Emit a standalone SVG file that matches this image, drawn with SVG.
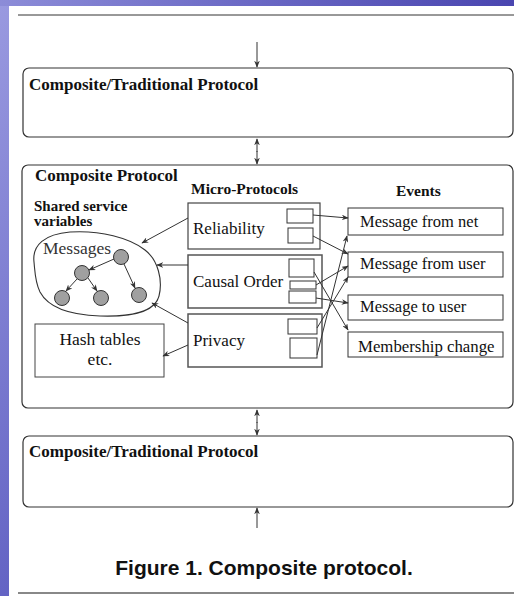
<svg xmlns="http://www.w3.org/2000/svg" width="514" height="596" viewBox="0 0 514 596">
<defs>
<linearGradient id="bg" x1="0" y1="0" x2="1" y2="1">
<stop offset="0" stop-color="#9a9ae0"/>
<stop offset="0.5" stop-color="#6464c4"/>
<stop offset="1" stop-color="#4646b0"/>
</linearGradient>
<linearGradient id="topbar" x1="0" y1="0" x2="1" y2="0">
<stop offset="0" stop-color="#8c8cd8"/>
<stop offset="0.5" stop-color="#6a68c4"/>
<stop offset="1" stop-color="#4a46b0"/>
</linearGradient>
<marker id="ah" viewBox="0 0 10 8" refX="9" refY="4" markerWidth="7" markerHeight="5.6" markerUnits="userSpaceOnUse" orient="auto-start-reverse">
<path d="M0,0 L10,4 L0,8 L3,4 z" fill="#333"/>
</marker>
<style>
.t{font-family:"Liberation Serif","Times New Roman",serif;fill:#111}
.b{font-weight:bold;font-size:17px}
.r{font-size:17px}
.sv{font-weight:bold;font-size:15px}
.big{fill:none;stroke:#333;stroke-width:1.2}
.mp{fill:none;stroke:#444;stroke-width:1.2}
.sb{fill:#fff;stroke:#333;stroke-width:1}
.ev{fill:#fff;stroke:#333;stroke-width:1}
.ln{fill:none;stroke:#333;stroke-width:1;marker-end:url(#ah)}
.nd{fill:#a0a0a0;stroke:#333;stroke-width:1}
</style>
</defs>
<rect x="0" y="0" width="514" height="596" fill="url(#bg)"/>
<rect x="0" y="0" width="514" height="6" fill="url(#topbar)"/>
<rect x="9" y="6" width="505" height="590" fill="#fff"/>
<line x1="18" y1="15" x2="514" y2="15" stroke="#333" stroke-width="1"/>
<line x1="18" y1="593" x2="514" y2="593" stroke="#888" stroke-width="2"/>

<g id="top-protocol">
<rect class="big" x="23" y="68" width="490" height="69" rx="6"/>
<text class="t b" x="29" y="90">Composite/Traditional Protocol</text>
</g>

<g id="composite-protocol">
<rect class="big" x="22" y="165" width="491" height="243" rx="6"/>
<text class="t b" x="35" y="181">Composite Protocol</text>
<text class="t" x="191" y="194" style="font-weight:bold;font-size:15.5px">Micro-Protocols</text>
<text class="t" x="396" y="196" style="font-weight:bold;font-size:15.5px">Events</text>
<text class="t sv" x="34" y="211">Shared service</text>
<text class="t sv" x="34" y="226">variables</text>
</g>

<g id="shared-variables">
<path d="M34,262 C32,245 45,234 70,232 C100,230 130,238 145,250 C158,260 163,280 159,296 C155,312 130,317 100,316 C70,315 48,307 40,292 C35,282 35,272 34,262 Z" fill="none" stroke="#333" stroke-width="1.1"/>
<text class="t" x="43" y="254" style="font-size:17.5px;fill:#333">Messages</text>
<circle class="nd" cx="121" cy="257" r="7.5"/>
<circle class="nd" cx="82" cy="273" r="7.5"/>
<circle class="nd" cx="62" cy="298" r="7.5"/>
<circle class="nd" cx="101" cy="298" r="7.5"/>
<circle class="nd" cx="139" cy="295" r="7.5"/>
</g>

<g id="reliability">
<rect class="mp" x="188" y="203" width="132" height="46"/>
<text class="t r" x="193" y="234">Reliability</text>
<rect class="sb" x="287" y="209" width="26" height="14"/>
<rect class="sb" x="288" y="228" width="25" height="15"/>
</g>

<g id="causal-order">
<rect class="mp" x="188" y="255" width="134" height="53" style="stroke:#555;stroke-width:1.5"/>
<text class="t r" x="193" y="287">Causal Order</text>
<rect class="sb" x="289" y="259" width="25" height="18"/>
<rect class="sb" x="290" y="281" width="26" height="8"/>
<rect class="sb" x="289" y="291" width="27" height="12"/>
</g>

<g id="privacy">
<rect class="mp" x="188" y="314" width="134" height="53" style="stroke:#555;stroke-width:1.5"/>
<text class="t r" x="193" y="346">Privacy</text>
<rect class="sb" x="288" y="319" width="29" height="15"/>
<rect class="sb" x="290" y="338" width="27" height="20"/>
</g>

<g id="hash-tables">
<rect class="sb" x="35" y="324" width="129" height="53" style="stroke:#444"/>
<text class="t" x="100" y="345" text-anchor="middle" style="font-size:17.5px">Hash tables</text>
<text class="t" x="100" y="365" text-anchor="middle" style="font-size:17.5px">etc.</text>
</g>

<g id="event-net">
<rect class="ev" x="348" y="208" width="155" height="27"/>
<text class="t" x="360" y="227" style="font-size:16.5px">Message from net</text>
</g>
<g id="event-from-user">
<rect class="ev" x="348" y="252" width="155" height="25"/>
<text class="t" x="360" y="269" style="font-size:16.5px">Message from user</text>
</g>
<g id="event-to-user">
<rect class="ev" x="348" y="295" width="155" height="25"/>
<text class="t" x="360" y="312" style="font-size:16.5px">Message to user</text>
</g>
<g id="event-membership">
<rect class="ev" x="348" y="332" width="155" height="25"/>
<text class="t" x="358" y="352" style="font-size:16.8px">Membership change</text>
</g>

<g id="bottom-protocol">
<rect class="big" x="23" y="436" width="490" height="71" rx="6"/>
<text class="t b" x="29" y="457">Composite/Traditional Protocol</text>
</g>

<text x="264" y="575" text-anchor="middle" style="font-family:'Liberation Sans',Arial,sans-serif;font-weight:bold;font-size:21px;fill:#111">Figure 1. Composite protocol.</text>

<g id="connectors">
<line class="ln" x1="257" y1="42" x2="257" y2="67"/>
<line class="ln" x1="257" y1="152" x2="257" y2="139"/>
<line class="ln" x1="257" y1="151" x2="257" y2="164"/>
<line class="ln" x1="257" y1="423" x2="257" y2="410"/>
<line class="ln" x1="257" y1="422" x2="257" y2="435"/>
<line class="ln" x1="257" y1="528" x2="257" y2="508"/>

<line class="ln" x1="188" y1="218" x2="142" y2="243"/>
<line class="ln" x1="188" y1="265" x2="157" y2="265"/>
<line class="ln" x1="188" y1="323" x2="152" y2="303"/>
<line class="ln" x1="188" y1="345" x2="163" y2="356"/>

<line class="ln" x1="114" y1="259" x2="89" y2="270"/>
<line class="ln" x1="124" y1="264" x2="135" y2="288"/>
<line class="ln" x1="77" y1="279" x2="66" y2="291"/>
<line class="ln" x1="88" y1="278" x2="97" y2="291"/>

<line class="ln" x1="313" y1="215" x2="348" y2="218"/>
<line class="ln" x1="313" y1="236" x2="348" y2="254"/>
<line class="ln" x1="314" y1="272" x2="348" y2="330"/>
<line class="ln" x1="316" y1="285" x2="348" y2="266"/>
<line class="ln" x1="316" y1="298" x2="348" y2="303"/>
<line class="ln" x1="317" y1="328" x2="348" y2="277"/>
<line class="ln" x1="317" y1="355" x2="347" y2="236"/>
</g>
</svg>
